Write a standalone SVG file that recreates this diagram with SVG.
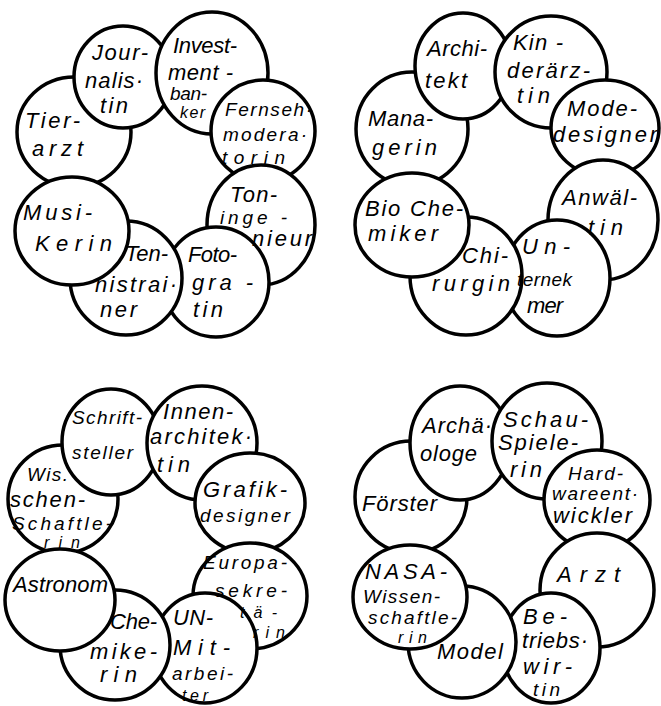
<svg xmlns="http://www.w3.org/2000/svg" width="661" height="706" viewBox="0 0 661 706">
<style>
.b{fill:#fff;stroke:#000;stroke-width:3.5}
text{font-family:"Liberation Sans","DejaVu Sans",sans-serif;font-style:italic;font-size:22px;fill:#000}
.s{font-size:16px}
.m{font-size:19px}
</style>
<rect width="661" height="706" fill="#fff"/>
<g id="nodes">
<g id="cluster1">
<g id="tierarzt"><ellipse class="b" cx="74" cy="132" rx="57" ry="55"/></g>
<g id="journalistin"><ellipse class="b" cx="123" cy="77" rx="49" ry="51"/></g>
<g id="investmentbanker"><ellipse class="b" cx="212" cy="73" rx="56" ry="61"/></g>
<g id="fernsehmoderatorin"><ellipse class="b" cx="263" cy="131" rx="52" ry="51"/></g>
<g id="toningenieur"><ellipse class="b" cx="261" cy="225" rx="54" ry="60"/></g>
<g id="fotografin"><ellipse class="b" cx="216" cy="282" rx="53" ry="55"/></g>
<g id="tennistrainer"><ellipse class="b" cx="126" cy="278" rx="56" ry="57"/></g>
<g id="musikerin"><ellipse class="b" cx="72" cy="231" rx="57" ry="54"/></g>
</g>
<g id="cluster2">
<g id="managerin"><ellipse class="b" cx="412" cy="129" rx="56" ry="57"/></g>
<g id="architekt"><ellipse class="b" cx="463" cy="66" rx="48" ry="53"/></g>
<g id="kinderaerztin"><ellipse class="b" cx="551" cy="72" rx="56" ry="56"/></g>
<g id="modedesigner"><ellipse class="b" cx="605" cy="128" rx="54" ry="48"/></g>
<g id="anwaeltin"><ellipse class="b" cx="603" cy="220" rx="55" ry="60"/></g>
<g id="unternehmer"><ellipse class="b" cx="557" cy="278" rx="53" ry="58"/></g>
<g id="chirurgin"><ellipse class="b" cx="466" cy="276" rx="56" ry="59"/></g>
<g id="biochemiker"><ellipse class="b" cx="412" cy="225" rx="57" ry="52"/></g>
</g>
<g id="cluster3">
<g id="wissenschaftlerin"><ellipse class="b" cx="63" cy="499" rx="55" ry="54"/></g>
<g id="schriftsteller"><ellipse class="b" cx="111" cy="442" rx="49" ry="53"/></g>
<g id="innenarchitektin"><ellipse class="b" cx="202" cy="443" rx="55" ry="57"/></g>
<g id="grafikdesigner"><ellipse class="b" cx="250" cy="503" rx="55" ry="50"/></g>
<g id="europasekretaerin"><ellipse class="b" cx="250" cy="596" rx="57" ry="53"/></g>
<g id="un-mitarbeiter"><ellipse class="b" cx="205" cy="648" rx="52" ry="55"/></g>
<g id="chemikerin"><ellipse class="b" cx="115" cy="645" rx="55" ry="55"/></g>
<g id="astronom"><ellipse class="b" cx="60" cy="600" rx="55" ry="51"/></g>
</g>
<g id="cluster4">
<g id="foerster"><ellipse class="b" cx="411" cy="497" rx="56" ry="56"/></g>
<g id="archaeologe"><ellipse class="b" cx="460" cy="443" rx="50" ry="57"/></g>
<g id="schauspielerin"><ellipse class="b" cx="547" cy="441" rx="55" ry="58"/></g>
<g id="hardwareentwickler"><ellipse class="b" cx="597" cy="500" rx="53" ry="50"/></g>
<g id="arzt"><ellipse class="b" cx="597" cy="590" rx="57" ry="57"/></g>
<g id="betriebswirtin"><ellipse class="b" cx="551" cy="648" rx="49" ry="55"/></g>
<g id="model"><ellipse class="b" cx="462" cy="642" rx="54" ry="56"/></g>
<g id="nasa-wissenschaftlerin"><ellipse class="b" cx="410" cy="597" rx="57" ry="52"/></g>
</g>
</g>
<g id="labels">
<g id="tierarzt-label"><text x="25" y="128" textLength="55" lengthAdjust="spacing">Tier-</text><text x="32" y="156" textLength="51" lengthAdjust="spacing">arzt</text></g>
<g id="journalistin-label"><text x="92" y="60" textLength="56" lengthAdjust="spacing">Jour-</text><text x="85" y="88" textLength="58" lengthAdjust="spacing">nalis·</text><text x="100" y="113" textLength="28" lengthAdjust="spacing">tin</text></g>
<g id="investmentbanker-label"><text x="173" y="53" textLength="64" lengthAdjust="spacing">Invest-</text><text x="168" y="80" textLength="65" lengthAdjust="spacing">ment -</text><text class="m" x="170" y="100" textLength="37" lengthAdjust="spacing">ban-</text><text class="s" x="180" y="118" textLength="25" lengthAdjust="spacing">ker</text></g>
<g id="fernsehmoderatorin-label"><text class="m" x="225" y="116" textLength="87" lengthAdjust="spacing">Fernseh·</text><text class="m" x="223" y="141" textLength="84" lengthAdjust="spacing">modera·</text><text class="m" x="222" y="164" textLength="63" lengthAdjust="spacing">torin</text></g>
<g id="toningenieur-label"><text x="230" y="202" textLength="47" lengthAdjust="spacing">Ton-</text><text class="m" x="220" y="224" textLength="67" lengthAdjust="spacing">inge -</text><text x="252" y="246" textLength="60" lengthAdjust="spacing">nieur</text></g>
<g id="fotografin-label"><text x="188" y="262" textLength="49" lengthAdjust="spacing">Foto-</text><text x="192" y="290" textLength="61" lengthAdjust="spacing">gra -</text><text x="193" y="317" textLength="30" lengthAdjust="spacing">tin</text></g>
<g id="tennistrainer-label"><text x="125" y="261" textLength="43" lengthAdjust="spacing">Ten-</text><text x="95" y="292" textLength="82" lengthAdjust="spacing">nistrai·</text><text x="100" y="317" textLength="37" lengthAdjust="spacing">ner</text></g>
<g id="musikerin-label"><text x="23" y="220" textLength="69" lengthAdjust="spacing">Musi-</text><text x="35" y="251" textLength="77" lengthAdjust="spacing">Kerin</text></g>
<g id="managerin-label"><text x="368" y="126" textLength="65" lengthAdjust="spacing">Mana-</text><text x="372" y="155" textLength="65" lengthAdjust="spacing">gerin</text></g>
<g id="architekt-label"><text x="427" y="56" textLength="60" lengthAdjust="spacing">Archi-</text><text x="425" y="88" textLength="42" lengthAdjust="spacing">tekt</text></g>
<g id="kinderaerztin-label"><text x="513" y="50" textLength="50" lengthAdjust="spacing">Kin -</text><text x="507" y="78" textLength="83" lengthAdjust="spacing">derärz-</text><text x="517" y="103" textLength="33" lengthAdjust="spacing">tin</text></g>
<g id="modedesigner-label"><text x="567" y="116" textLength="70" lengthAdjust="spacing">Mode-</text><text x="553" y="142" textLength="104" lengthAdjust="spacing">designer</text></g>
<g id="anwaeltin-label"><text x="562" y="205" textLength="75" lengthAdjust="spacing">Anwäl-</text><text x="588" y="235" textLength="35" lengthAdjust="spacing">tin</text></g>
<g id="unternehmer-label"><text x="522" y="254" textLength="48" lengthAdjust="spacing">Un-</text><text class="m" x="517" y="286" textLength="55" lengthAdjust="spacing">ternek</text><text x="527" y="313" textLength="36" lengthAdjust="spacing">mer</text></g>
<g id="chirurgin-label"><text x="462" y="263" textLength="46" lengthAdjust="spacing">Chi-</text><text x="432" y="291" textLength="78" lengthAdjust="spacing">rurgin</text></g>
<g id="biochemiker-label"><text x="365" y="216" textLength="98" lengthAdjust="spacing">Bio Che-</text><text x="368" y="241" textLength="70" lengthAdjust="spacing">miker</text></g>
<g id="wissenschaftlerin-label"><text class="m" x="27" y="481" textLength="41" lengthAdjust="spacing">Wis.</text><text x="10" y="507" textLength="75" lengthAdjust="spacing">schen-</text><text class="m" x="12" y="530" textLength="100" lengthAdjust="spacing">Schaftle-</text><text class="s" x="44" y="548" textLength="36" lengthAdjust="spacing">rin</text></g>
<g id="schriftsteller-label"><text class="m" x="72" y="424" textLength="70" lengthAdjust="spacing">Schrift-</text><text class="m" x="72" y="459" textLength="61" lengthAdjust="spacing">steller</text></g>
<g id="innenarchitektin-label"><text x="163" y="419" textLength="70" lengthAdjust="spacing">Innen-</text><text x="150" y="444" textLength="102" lengthAdjust="spacing">architek·</text><text x="157" y="472" textLength="33" lengthAdjust="spacing">tin</text></g>
<g id="grafikdesigner-label"><text x="203" y="497" textLength="84" lengthAdjust="spacing">Grafik-</text><text class="m" x="200" y="522" textLength="90" lengthAdjust="spacing">designer</text></g>
<g id="europasekretaerin-label"><text class="m" x="203" y="569" textLength="84" lengthAdjust="spacing">Europa-</text><text class="m" x="215" y="597" textLength="72" lengthAdjust="spacing">sekre-</text><text class="s" x="240" y="618" textLength="37" lengthAdjust="spacing">tä-</text><text class="s" x="253" y="638" textLength="32" lengthAdjust="spacing">rin</text></g>
<g id="un-mitarbeiter-label"><text x="173" y="625" textLength="40" lengthAdjust="spacing">UN-</text><text x="173" y="655" textLength="57" lengthAdjust="spacing">Mit-</text><text class="m" x="172" y="680" textLength="61" lengthAdjust="spacing">arbei-</text><text class="s" x="182" y="701" textLength="26" lengthAdjust="spacing">ter</text></g>
<g id="chemikerin-label"><text x="110" y="629" textLength="47" lengthAdjust="spacing">Che-</text><text x="90" y="659" textLength="67" lengthAdjust="spacing">mike-</text><text x="100" y="682" textLength="37" lengthAdjust="spacing">rin</text></g>
<g id="astronom-label"><text x="13" y="592" textLength="95" lengthAdjust="spacing">Astronom</text></g>
<g id="foerster-label"><text x="362" y="511" textLength="75" lengthAdjust="spacing">Förster</text></g>
<g id="archaeologe-label"><text x="422" y="433" textLength="70" lengthAdjust="spacing">Archä·</text><text x="420" y="461" textLength="57" lengthAdjust="spacing">ologe</text></g>
<g id="schauspielerin-label"><text x="503" y="427" textLength="85" lengthAdjust="spacing">Schau-</text><text x="498" y="450" textLength="80" lengthAdjust="spacing">Spiele-</text><text x="510" y="477" textLength="32" lengthAdjust="spacing">rin</text></g>
<g id="hardwareentwickler-label"><text class="m" x="568" y="480" textLength="55" lengthAdjust="spacing">Hard-</text><text class="m" x="552" y="500" textLength="86" lengthAdjust="spacing">wareent·</text><text x="553" y="523" textLength="79" lengthAdjust="spacing">wickler</text></g>
<g id="arzt-label"><text x="557" y="582" textLength="63" lengthAdjust="spacing">Arzt</text></g>
<g id="betriebswirtin-label"><text x="523" y="624" textLength="44" lengthAdjust="spacing">Be-</text><text x="522" y="648" textLength="66" lengthAdjust="spacing">triebs·</text><text x="523" y="674" textLength="49" lengthAdjust="spacing">wir-</text><text class="m" x="533" y="696" textLength="27" lengthAdjust="spacing">tin</text></g>
<g id="model-label"><text x="437" y="659" textLength="66" lengthAdjust="spacing">Model</text></g>
<g id="nasa-wissenschaftlerin-label"><text x="365" y="579" textLength="82" lengthAdjust="spacing">NASA-</text><text class="m" x="363" y="603" textLength="77" lengthAdjust="spacing">Wissen-</text><text class="m" x="368" y="624" textLength="89" lengthAdjust="spacing">schaftle-</text><text class="s" x="398" y="643" textLength="29" lengthAdjust="spacing">rin</text></g>
</g>
<g id="connectors"/>
</svg>
